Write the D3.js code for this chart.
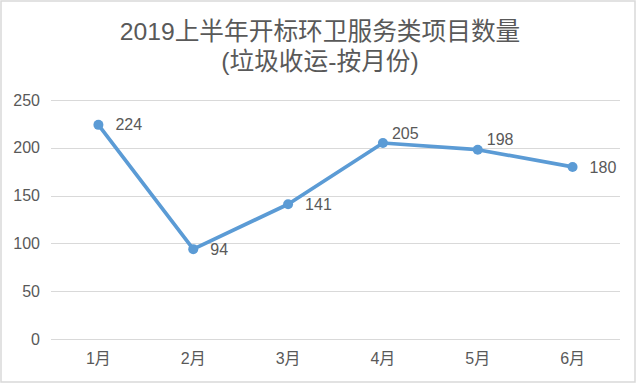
<!DOCTYPE html>
<html lang="zh">
<head>
<meta charset="UTF-8">
<title>2019上半年开标环卫服务类项目数量</title>
<script src="https://d3js.org/d3.v7.min.js"></script>
<style>
    body { margin: 0; background: #fff; }
    svg text { font-family: "Liberation Sans", Arial, "Noto Sans CJK SC", sans-serif; fill: #595959; }
    .title { font-size: 24.7px; }
    .tick-label, .value-label { font-size: 16px; }
</style>
</head>
<body>
<svg width="640" height="384"></svg>
<script>
    // data
    const months = ["1月", "2月", "3月", "4月", "5月", "6月"];
    const counts = [224, 94, 141, 205, 198, 180];
    const yTicks = [0, 50, 100, 150, 200, 250];
    const titleLines = ["2019上半年开标环卫服务类项目数量", "(垃圾收运-按月份)"];
    // where each value label sits relative to its point
    const labelPlace = ["right", "right", "right", "upright", "upright", "right"];

    const W = 640, H = 384;
    const margin = { top: 100, right: 20, bottom: 45, left: 51 };

    const svg = d3.select("svg");

    svg.append("rect")
        .attr("x", 1).attr("y", 1)
        .attr("width", W - 6).attr("height", H - 3)
        .attr("fill", "#fff")
        .attr("stroke", "#d9d9d9")
        .attr("stroke-width", 1.5);

    svg.selectAll(".title")
        .data(titleLines)
        .enter().append("text")
        .attr("class", "title")
        .attr("x", 320)
        .attr("y", (d, i) => 40 + i * 30)
        .attr("text-anchor", "middle")
        .text(d => d);

    const x = d3.scaleBand()
        .domain(months)
        .range([margin.left, W - margin.right]);

    const y = d3.scaleLinear()
        .domain([0, 250])
        .range([339, margin.top]);

    // gridlines
    svg.append("g")
        .selectAll("line")
        .data(yTicks)
        .enter().append("line")
        .attr("x1", margin.left)
        .attr("x2", W - margin.right)
        .attr("y1", d => Math.round(y(d)) + 0.5)
        .attr("y2", d => Math.round(y(d)) + 0.5)
        .attr("stroke", "#d9d9d9")
        .attr("stroke-width", 1);

    const yAxis = svg.append("g")
        .attr("transform", `translate(${margin.left}, 0)`)
        .call(d3.axisLeft(y).tickValues(yTicks).tickSize(0).tickPadding(11));
    yAxis.select(".domain").remove();
    yAxis.selectAll("text").attr("class", "tick-label").attr("fill", null);

    const xAxis = svg.append("g")
        .attr("transform", `translate(0, ${y(0)})`)
        .call(d3.axisBottom(x).tickSize(0).tickPadding(14));
    xAxis.select(".domain").remove();
    xAxis.selectAll("text").attr("class", "tick-label").attr("fill", null);

    const pts = months.map((m, i) => ({ m, v: counts[i], place: labelPlace[i] }));
    const cx = d => x(d.m) + x.bandwidth() / 2;

    svg.append("path")
        .datum(pts)
        .attr("fill", "none")
        .attr("stroke", "#5b9bd5")
        .attr("stroke-width", 3.7)
        .attr("stroke-linejoin", "round")
        .attr("d", d3.line().x(cx).y(d => y(d.v)));

    svg.selectAll(".dot")
        .data(pts)
        .enter().append("circle")
        .attr("class", "dot")
        .attr("cx", cx)
        .attr("cy", d => y(d.v))
        .attr("r", 5)
        .attr("fill", "#5b9bd5");

    svg.selectAll(".value-label")
        .data(pts)
        .enter().append("text")
        .attr("class", "value-label")
        .attr("x", d => cx(d) + (d.place === "right" ? 17 : 9))
        .attr("y", d => y(d.v) + (d.place === "right" ? 0 : -10))
        .attr("dy", "0.35em")
        .text(d => d.v);
</script>
</body>
</html>
